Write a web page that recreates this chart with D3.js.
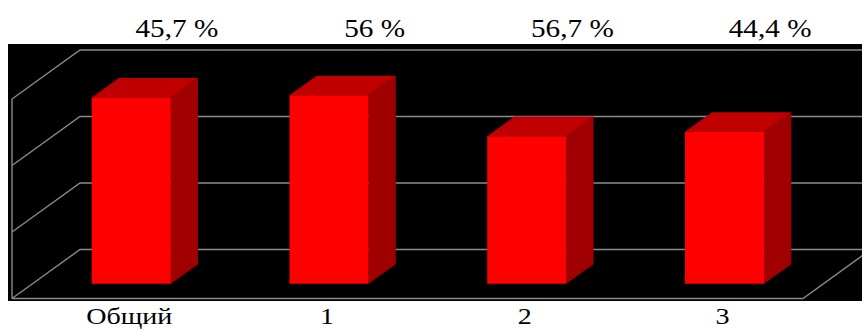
<!DOCTYPE html>
<html>
<head>
<meta charset="utf-8">
<script src="https://cdn.jsdelivr.net/npm/d3@7"></script>
<style>
  html, body { margin: 0; padding: 0; background: #fff; }
  svg { display: block; }
</style>
</head>
<body>
<svg id="chart" width="862" height="329"></svg>
<script>
const categories = ["Общий", "1", "2", "3"];
const values = [56, 56.7, 44.4, 45.7];
const valueLabels = ["45,7 %", "56 %", "56,7 %", "44,4 %"];
const yTicks = [0, 20, 40, 60];

const svg = d3.select("#chart");
const W = 862, H = 329;
const depth = { dx: 68, dy: -49 };
const barFront = 0.3, barBack = 0.7;

const x = d3.scaleBand().domain(categories).range([12, 803]).paddingInner(0.6).paddingOuter(0.3);
const y = d3.scaleLinear().domain([0, 60]).range([298.5, 99]);

const P = (px, py, f) => [px + f * depth.dx, py + f * depth.dy];
const gridColor = "#8a8a8a";

// black plot background
svg.append("rect").attr("x", 8).attr("y", 44).attr("width", W - 8).attr("height", 257).attr("fill", "#000");

const g = svg.append("g");
const line = d3.line();

// back wall gridlines + side wall diagonals
yTicks.forEach(t => {
  const front = [x.range()[0], y(t)];
  const back = P(front[0], front[1], 1);
  const farRight = P(x.range()[1], y(t), 1);
  g.append("path").attr("d", line([front, back, farRight]))
    .attr("fill", "none").attr("stroke", gridColor).attr("stroke-width", 1.4);
});
// left vertical edge
g.append("path").attr("d", line([[x.range()[0], y(60)], [x.range()[0], y(0)]]))
  .attr("fill", "none").attr("stroke", gridColor).attr("stroke-width", 1.4);
// floor front edge and right diagonal
g.append("path").attr("d", line([[x.range()[0], y(0)], [x.range()[1], y(0)], P(x.range()[1], y(0), 1)]))
  .attr("fill", "none").attr("stroke", gridColor).attr("stroke-width", 1.4);

// bars
categories.forEach((c, i) => {
  const x0 = x(c), x1 = x(c) + x.bandwidth();
  const yt = y(values[i]), yb = y(0);
  const fl = P(x0, yb, barFront), fr = P(x1, yb, barFront);
  const tl = P(x0, yt, barFront), tr = P(x1, yt, barFront);
  const btl = P(x0, yt, barBack), btr = P(x1, yt, barBack), bbr = P(x1, yb, barBack);
  const bar = g.append("g");
  bar.append("path").attr("d", line([fr, tr, btr, bbr]) + "Z").attr("fill", "#a00000");
  bar.append("path").attr("d", line([tl, tr, btr, btl]) + "Z").attr("fill", "#c00000");
  bar.append("path").attr("d", line([fl, tl, tr, fr]) + "Z").attr("fill", "#ff0000");
});

const font = "'Liberation Serif', 'Times New Roman', serif";
// value labels above
categories.forEach((c, i) => {
  const cx = x(c) + x.bandwidth() / 2 + depth.dx - 2;
  svg.append("text")
    .attr("transform", `translate(${cx},36.7) scale(1.17,1)`)
    .attr("text-anchor", "middle")
    .attr("font-family", font).attr("font-size", 25).attr("fill", "#000")
    .text(valueLabels[i]);
});
// category labels
categories.forEach((c, i) => {
  const cx = P(x(c) + x.bandwidth() / 2, 0, barFront)[0] - 2;
  svg.append("text")
    .attr("transform", `translate(${cx},323.5) scale(1.17,1)`)
    .attr("text-anchor", "middle")
    .attr("font-family", font).attr("font-size", 24).attr("fill", "#000")
    .text(c);
});
</script>
</body>
</html>
